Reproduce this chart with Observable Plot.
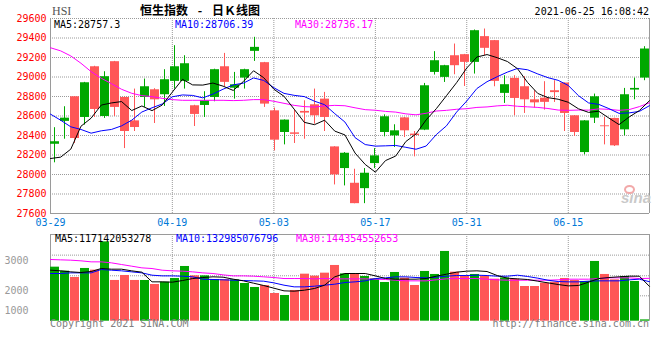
<!DOCTYPE html>
<html><head><meta charset="utf-8">
<script src="https://cdn.jsdelivr.net/npm/d3@7"></script>
<script src="https://cdn.jsdelivr.net/npm/@observablehq/plot@0.6"></script>
<style>
body{margin:0;background:#fff;}
#chart{position:relative;width:660px;height:360px;overflow:hidden;background:#fff;}
.t{position:absolute;white-space:pre;line-height:10px;font-family:"DejaVu Sans Mono",monospace;font-size:10px;}
</style></head><body><div id="chart"></div>
<script>
// ---------- data ----------
const dates = ["03-29","03-30","03-31","04-01","04-07","04-08","04-09","04-12","04-13","04-14",
  "04-15","04-16","04-19","04-20","04-21","04-22","04-23","04-26","04-27","04-28",
  "04-29","04-30","05-03","05-04","05-05","05-06","05-07","05-10","05-11","05-12",
  "05-13","05-14","05-17","05-18","05-20","05-21","05-24","05-25","05-26","05-27",
  "05-28","05-31","06-01","06-02","06-03","06-04","06-07","06-08","06-09","06-10",
  "06-11","06-15","06-16","06-17","06-18","06-21","06-22","06-23","06-24","06-25"];
const open = [28310,28545,28797,28585,29105,28595,29157,28790,28550,28790,
  28869,28818,28955,28955,28705,28708,28790,29105,28885,28989,
  29263,29147,28653,28431,28427,28647,28715,28773,28283,28061,
  27910,27855,28112,28431,28396,28581,28414,28455,29047,28996,
  29218,29229,29150,29414,29373,28832,28986,28900,28766,28783,
  28859,28938,28602,28225,28578,28499,28575,28458,28866,28989];
const high = [28480,28695,28800,28945,29110,29054,29160,28795,28876,28979,
  28880,29075,29321,29218,28710,28849,29080,29242,29047,29080,
  29407,29150,28681,28560,28660,28756,28876,28842,28285,28225,
  28054,28061,28266,28612,28510,28585,28441,28934,29260,29120,
  29338,29232,29482,29492,29375,29013,29013,29003,28859,28952,
  28962,28940,28605,28552,28825,28585,28578,28883,28989,29311];
const low = [28120,28362,28318,28506,28585,28575,28595,28266,28441,28688,
  28523,28698,28876,28876,28492,28585,28746,28900,28773,28876,
  29160,28688,28242,28304,28318,28362,28516,28441,27893,27883,
  27700,27701,28061,28386,28277,28379,28181,28450,29020,28944,
  29023,28903,29030,29218,28900,28729,28602,28626,28681,28660,
  28739,28441,28390,28201,28523,28304,28287,28397,28766,28962];
const close = [28336,28578,28369,28941,28667,29003,28688,28441,28482,28900,
  28766,28972,29105,29136,28616,28756,29075,28945,28920,29075,
  29304,28722,28352,28558,28412,28630,28602,28585,27996,28218,
  27701,28013,28191,28592,28448,28448,28400,28910,29167,29116,
  29116,29150,29475,29294,28955,28921,28780,28766,28735,28740,
  28840,28626,28431,28550,28797,28490,28294,28818,28883,29287];
const ma5 = [28164,28178,28260,28495,28578,28712,28734,28748,28656,28703,
  28655,28712,28845,28976,28919,28917,28938,28906,28862,28954,
  29064,28993,28875,28802,28670,28535,28511,28557,28445,28406,
  28220,28103,28024,28143,28189,28338,28416,28560,28675,28808,
  28942,29092,29205,29230,29198,29159,29085,28943,28831,28788,
  28772,28741,28674,28637,28649,28579,28512,28590,28656,28757];
const ma10 = [28619,28557,28489,28462,28424,28448,28462,28499,28557,28641,
  28684,28723,28797,28816,28811,28786,28825,28875,28919,28937,
  28990,28965,28890,28832,28812,28799,28752,28716,28624,28538,
  28378,28307,28291,28294,28298,28279,28259,28292,28409,28499,
  28640,28754,28882,28952,29003,29050,29088,29074,29031,28993,
  28966,28913,28809,28734,28719,28676,28627,28632,28647,28706];
const ma30 = [29300,29268,29216,29141,29055,28987,28932,28874,28833,28809,
  28799,28781,28768,28761,28761,28761,28761,28761,28758,28761,
  28768,28768,28751,28730,28709,28696,28692,28703,28709,28705,
  28684,28665,28659,28647,28640,28622,28612,28628,28651,28658,
  28669,28675,28688,28693,28704,28710,28700,28694,28688,28677,
  28661,28658,28661,28660,28673,28668,28658,28666,28696,28736];
// turnover, 100 million HKD
const volume = [1820,1685,1473,1776,1719,2672,1372,1540,1372,1372,
  1237,1314,1439,1843,1527,1527,1405,1400,1392,1270,
  1136,1200,933,866,1035,1584,1517,1618,1877,1594,
  1574,1506,1426,1304,1641,1450,1203,1675,1574,2349,
  1651,1506,1574,1506,1415,1459,1415,1169,1169,1281,
  1314,1439,1372,1338,2012,1574,1392,1506,1338,44];
const volMa5 = [1718,1696,1662,1640,1673,1774,1752,1752,1696,1651,
  1325,1325,1314,1370,1437,1471,1494,1482,1415,1359,
  1280,1202,1112,1022,1011,1044,1101,1213,1494,1606,
  1606,1606,1527,1437,1415,1415,1415,1437,1516,1583,
  1651,1685,1696,1673,1538,1449,1426,1404,1348,1291,
  1235,1190,1202,1314,1437,1471,1494,1516,1516,1171];
const volMa10 = [1606,1606,1628,1628,1628,1741,1718,1696,1662,1628,
  1550,1527,1527,1516,1494,1415,1404,1393,1381,1370,
  1359,1348,1291,1213,1157,1157,1179,1213,1247,1303,
  1325,1359,1437,1460,1494,1494,1471,1460,1482,1516,
  1538,1538,1550,1538,1516,1516,1550,1505,1449,1381,
  1336,1325,1325,1348,1359,1359,1359,1393,1415,1330];
const volMa30 = [2078,2066,2055,2033,1999,1999,1965,1909,1853,1797,
  1774,1718,1696,1685,1662,1628,1606,1561,1527,1527,
  1516,1494,1471,1437,1437,1437,1426,1437,1426,1426,
  1426,1426,1415,1404,1381,1359,1359,1359,1393,1426,
  1437,1437,1437,1415,1393,1381,1381,1381,1381,1381,
  1393,1415,1415,1415,1437,1460,1460,1460,1437,1444];
const priceTicks = [27600,27800,28000,28200,28400,28600,28800,29000,29200,29400,29600];
const dateTicks = ["03-29","04-19","05-03","05-17","05-31","06-15"];
const priceMaLabels = ["MA5:28757.3","MA10:28706.39","MA30:28736.17"];
const volMaLabels = ["MA5:117142053278","MA10:132985076796","MA30:144354552653"];
const volMax = 2920;
const volGrid = [2225,1530,855];
const volTickAt = [2020,1025,350];
const volTickLabels = ["3000","2000","1000"];

// ---------- styles ----------
const UP = "#00a800", DOWN = "#ff5757";
const MA_COLORS = ["#000000","#0000ff","#ff00ff"];
const GRID = {stroke:"#9a9a9a", strokeOpacity:1, strokeDasharray:"1,1"};
const BORDER = "#9a9a9a";
const style = {background:"transparent", fontFamily:"'DejaVu Sans Mono', monospace", fontSize:"10px", overflow:"visible"};

const rows = dates.map((date,i)=>({date, open:open[i], high:high[i], low:low[i], close:close[i],
  volume:volume[i], ma5:ma5[i], ma10:ma10[i], ma30:ma30[i],
  vma5:volMa5[i], vma10:volMa10[i], vma30:volMa30[i]}));
const colorOf = d => d.close >= d.open ? UP : DOWN;

const chart = document.getElementById("chart");
function add(svg, top){ svg.style.position="absolute"; svg.style.left="0px"; svg.style.top=top+"px"; chart.appendChild(svg); }

const lineFrame = {marginLeft:50, marginRight:11};
const barFrame = {marginLeft:49.5, marginRight:10.5};
const xPoint = {type:"point", domain:dates, padding:0, round:false};
const xBand = {type:"band", domain:dates, paddingInner:0.1, paddingOuter:0.05, round:false};

// ---------- price panel ----------
const pf = {width:660, height:232, marginTop:18, marginBottom:19, style};
const yPrice = {domain:[priceTicks[0], priceTicks[priceTicks.length-1]]};

add(Plot.plot({...pf, ...lineFrame, x:xPoint, y:yPrice, marks:[
  Plot.gridY({ticks:priceTicks, ...GRID}),
  Plot.gridX({ticks:dateTicks, ...GRID}),
  Plot.ruleX([dates[0], dates[dates.length-1]], {stroke:BORDER}),
  Plot.ruleY([priceTicks[0]], {stroke:BORDER}),
  Plot.axisY({ticks:priceTicks, tickFormat:"d", tickSize:0, tickPadding:4, color:"#ff0000", fill:"#ff0000", label:null}),
  Plot.axisX({ticks:dateTicks, tickSize:0, tickPadding:5.5, color:"#0078d7", fill:"#0078d7", label:null})
]}), 0);

add(Plot.plot({...pf, ...barFrame, x:{...xBand, axis:null}, y:{...yPrice, axis:null}, color:{type:"identity"}, marks:[
  Plot.ruleX(rows, {x:"date", y1:"low", y2:"high", stroke:colorOf, dx:-0.5}),
  Plot.barY(rows, {x:"date", y1:"open", y2:"close", fill:colorOf})
]}), 0);

add(Plot.plot({...pf, ...lineFrame, x:{...xPoint, axis:null}, y:{...yPrice, axis:null}, marks:[
  Plot.line(rows, {x:"date", y:"ma30", stroke:MA_COLORS[2], strokeWidth:1}),
  Plot.line(rows, {x:"date", y:"ma10", stroke:MA_COLORS[1], strokeWidth:1}),
  Plot.line(rows, {x:"date", y:"ma5", stroke:MA_COLORS[0], strokeWidth:1})
]}), 0);

// ---------- volume panel ----------
const vf = {width:660, height:100, marginTop:6, marginBottom:7.3, style};
const yVol = {domain:[0, volMax]};
const volLabel = new Map(volTickAt.map((v,i)=>[v, volTickLabels[i]]));
const VTOP = 228;

add(Plot.plot({...vf, ...lineFrame, x:xPoint, y:yVol, marks:[
  Plot.gridY({ticks:volGrid, ...GRID}),
  Plot.gridX({ticks:dateTicks, ...GRID}),
  Plot.ruleX([dates[0], dates[dates.length-1]], {stroke:BORDER}),
  Plot.ruleY([volMax], {stroke:BORDER}),
  Plot.axisY({ticks:volTickAt, tickFormat:d=>volLabel.get(d), tickSize:0, tickPadding:22, color:"#999999", fill:"#999999", label:null}),
  Plot.axisX({ticks:[], label:null})
]}), VTOP);

add(Plot.plot({...vf, ...barFrame, x:{...xBand, axis:null}, y:{...yVol, axis:null}, color:{type:"identity"}, marks:[
  Plot.barY(rows, {x:"date", y:"volume", fill:colorOf})
]}), VTOP);

add(Plot.plot({...vf, ...lineFrame, x:{...xPoint, axis:null}, y:{...yVol, axis:null}, marks:[
  Plot.line(rows, {x:"date", y:"vma30", stroke:MA_COLORS[2], strokeWidth:1}),
  Plot.line(rows, {x:"date", y:"vma10", stroke:MA_COLORS[1], strokeWidth:1}),
  Plot.line(rows, {x:"date", y:"vma5", stroke:MA_COLORS[0], strokeWidth:1})
]}), VTOP);

// ---------- texts ----------
function txt(s, css){ const d=document.createElement("div"); d.className="t"; d.textContent=s; Object.assign(d.style, css); chart.appendChild(d); return d; }
txt("HSI", {left:"52px", top:"5px", fontFamily:"'Liberation Serif',serif", fontSize:"12px", lineHeight:"12px", color:"#555"});
txt("恒生指数 - 日Ｋ线图", {left:"140px", top:"4px", fontFamily:"'Noto Sans CJK SC',sans-serif", fontSize:"12px", lineHeight:"12px", fontWeight:"bold", wordSpacing:"7px", color:"#000"});
txt("2021-06-25 16:08:42", {right:"11px", top:"7px", color:"#000"});
const maLeft = [54, 175, 295];
priceMaLabels.forEach((s,i)=>txt(s, {left:maLeft[i]+"px", top:"19.5px", color:MA_COLORS[i]}));
volMaLabels.forEach((s,i)=>txt(s, {left:(maLeft[i]+1)+"px", top:"233.5px", color:MA_COLORS[i]}));
txt("Copyright 2021 SINA.COM", {left:"50px", top:"319px", color:"#808080"});
txt("http://finance.sina.com.cn", {right:"11px", top:"319px", color:"#808080"});
txt("sina", {left:"621px", top:"190px", fontFamily:"'Liberation Sans',sans-serif", fontSize:"15px", lineHeight:"15px", fontStyle:"italic", fontWeight:"bold", color:"#c9c9c9"});
const eye = document.createElement("div");
Object.assign(eye.style, {position:"absolute", left:"624px", top:"185px", width:"7px", height:"5px", border:"2px solid #f2a9a9", borderRadius:"50%"});
chart.appendChild(eye);
</script></body></html>
